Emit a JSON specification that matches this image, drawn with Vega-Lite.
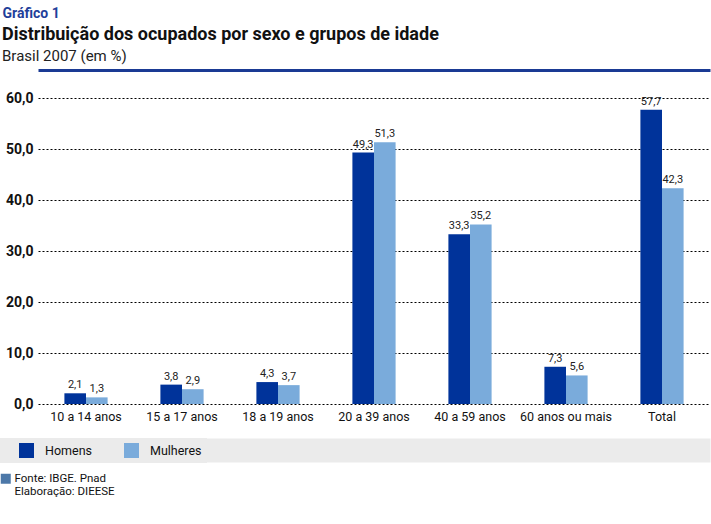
{
  "$schema": "https://vega.github.io/schema/vega-lite/v6.json",
  "autosize": {"type": "none"},
  "width": 672,
  "height": 306,
  "padding": {"left": 38, "top": 98, "right": 1, "bottom": 120},
  "background": "white",
  "config": {
    "view": {"stroke": null},
    "font": "Roboto, sans-serif",
    "locale": {"number": {"decimal": ",", "thousands": ".", "grouping": [3], "currency": ["R$", ""]}}
  },
  "title": {
    "text": "Distribuição dos ocupados por sexo e grupos de idade",
    "subtitle": "Brasil 2007 (em %)",
    "anchor": "start",
    "frame": "group",
    "dx": -36,
    "dy": 66,
    "fontSize": 18,
    "fontWeight": "bold",
    "color": "#111111",
    "subtitleFontSize": 15,
    "subtitleFontWeight": "normal",
    "subtitleColor": "#222222",
    "subtitlePadding": 5,
    "offset": 8
  },
  "data": {
    "values": [
      {"grupo": "10 a 14 anos", "sexo": "Homens", "valor": 2.1},
      {"grupo": "10 a 14 anos", "sexo": "Mulheres", "valor": 1.3},
      {"grupo": "15 a 17 anos", "sexo": "Homens", "valor": 3.8},
      {"grupo": "15 a 17 anos", "sexo": "Mulheres", "valor": 2.9},
      {"grupo": "18 a 19 anos", "sexo": "Homens", "valor": 4.3},
      {"grupo": "18 a 19 anos", "sexo": "Mulheres", "valor": 3.7},
      {"grupo": "20 a 39 anos", "sexo": "Homens", "valor": 49.3},
      {"grupo": "20 a 39 anos", "sexo": "Mulheres", "valor": 51.3},
      {"grupo": "40 a 59 anos", "sexo": "Homens", "valor": 33.3},
      {"grupo": "40 a 59 anos", "sexo": "Mulheres", "valor": 35.2},
      {"grupo": "60 anos ou mais", "sexo": "Homens", "valor": 7.3},
      {"grupo": "60 anos ou mais", "sexo": "Mulheres", "valor": 5.6},
      {"grupo": "Total", "sexo": "Homens", "valor": 57.7},
      {"grupo": "Total", "sexo": "Mulheres", "valor": 42.3}
    ]
  },
  "resolve": {"axis": {"x": "independent"}},
  "layer": [
    {
      "mark": {"type": "bar"},
      "encoding": {
        "x": {
          "field": "grupo", "type": "nominal", "sort": null,
          "scale": {"paddingInner": 0.55, "paddingOuter": 0.275},
          "axis": {"orient": "bottom", "title": null, "labelAngle": 0, "ticks": false,
            "domain": true, "domainColor": "#ebebeb", "domainWidth": 24, "offset": 46,
            "labelPadding": -40, "labelFontSize": 12.5, "labelColor": "#111111"}
        },
        "xOffset": {"field": "sexo", "type": "nominal", "scale": {"paddingInner": 0}},
        "y": {
          "field": "valor", "type": "quantitative",
          "scale": {"domain": [0, 60]},
          "axis": {
            "values": [0, 10, 20, 30, 40, 50, 60], "format": ".1f",
            "grid": true, "gridDash": [2, 2], "gridColor": "#000000", "gridWidth": 1,
            "domain": false, "ticks": false,
            "labelFontWeight": "bold", "labelFontSize": 14, "labelPadding": 5, "labelColor": "#111111",
            "title": "Gráfico 1", "titleAngle": 0, "titleX": -36, "titleY": -81,
            "titleAlign": "left", "titleBaseline": "alphabetic",
            "titleColor": "#1f3f9a", "titleFontSize": 14, "titleFontWeight": "bold"
          }
        },
        "color": {
          "field": "sexo", "type": "nominal",
          "scale": {"domain": ["Homens", "Mulheres"], "range": ["#00339a", "#7aabdb"]},
          "legend": {
            "orient": "none", "legendX": -38, "legendY": 340, "direction": "horizontal",
            "title": null, "fillColor": "#ebebeb", "padding": 5,
            "symbolType": "square", "symbolSize": 225, "symbolStrokeWidth": 0, "symbolOffset": 14,
            "labelOffset": 11, "columnPadding": 18, "labelFontSize": 12.5, "labelColor": "#111111",
            "labelLimit": 800
          }
        }
      }
    },
    {
      "mark": {"type": "text", "baseline": "bottom", "dy": -3, "fontSize": 11, "color": "#222222"},
      "encoding": {
        "x": {
          "field": "grupo", "type": "nominal", "sort": null,
          "axis": {"orient": "top", "labels": false, "ticks": false, "grid": false, "title": null, "domainColor": "#1a3a94", "domainWidth": 3, "offset": 28}
        },
        "xOffset": {"field": "sexo", "type": "nominal"},
        "y": {"field": "valor", "type": "quantitative"},
        "text": {"field": "valor", "type": "quantitative", "format": ".1f"}
      }
    },
    {
      "data": {"values": [{"nota": "Fonte: IBGE. Pnad"}]},
      "mark": {"type": "point", "opacity": 0, "filled": true},
      "encoding": {
        "shape": {
          "field": "nota", "type": "nominal",
          "scale": {"range": ["square"]},
          "legend": {
            "orient": "none", "legendX": -38, "legendY": 375, "title": null, "padding": 0,
            "symbolSize": 100, "symbolFillColor": "#5b9bd5", "symbolStrokeWidth": 0, "symbolOpacity": 1,
            "labelExpr": "['Fonte: IBGE. Pnad', 'Elaboração: DIEESE']",
            "labelFontSize": 11.5, "labelColor": "#111111", "labelOffset": 3, "labelLimit": 300
          }
        }
      }
    }
  ]
}
